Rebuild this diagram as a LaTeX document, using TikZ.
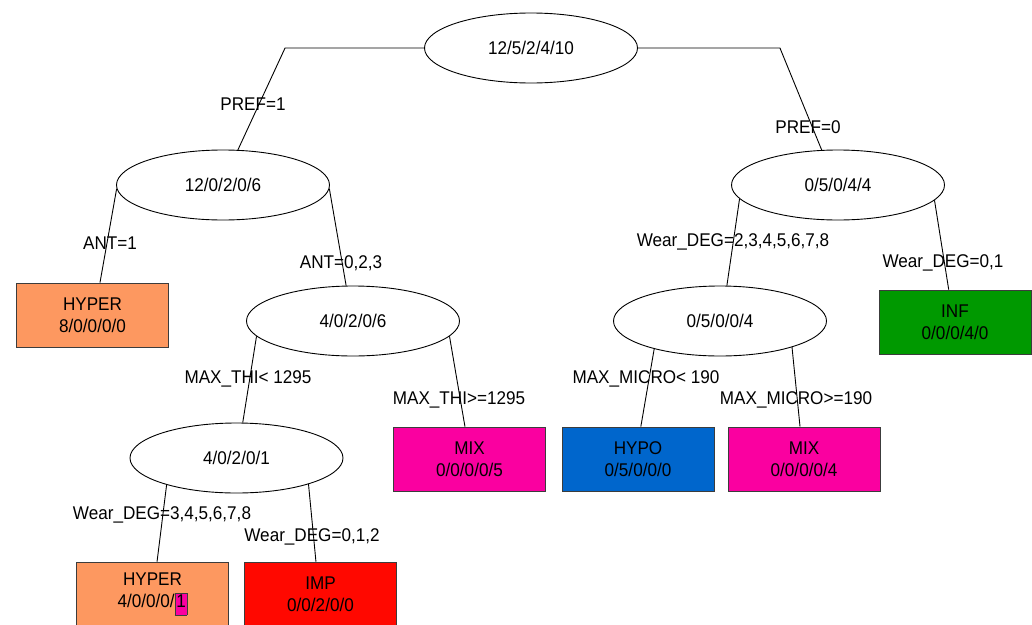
\documentclass[tikz,border=0pt]{standalone}
\usepackage{fontspec}
\setmainfont{Liberation Sans}[FakeStretch=0.93]
\usetikzlibrary{shapes.geometric}
\definecolor{hypercol}{RGB}{253,152,96}
\definecolor{mixcol}{RGB}{250,0,160}
\definecolor{hypocol}{RGB}{0,102,204}
\definecolor{infcol}{RGB}{0,153,0}
\definecolor{impcol}{RGB}{255,8,0}
\definecolor{bordercol}{RGB}{60,60,60}
\tikzset{
  txt/.style={font=\fontsize{18.4}{22}\selectfont, inner sep=0pt},
  splitnode/.style={ellipse, draw=black, line width=0.9pt, fill=white, minimum width=213pt, minimum height=70pt, inner sep=0pt, txt},
  leafbox/.style={rectangle, draw=bordercol, line width=0.9pt, minimum width=152pt, minimum height=64pt, inner sep=0pt, align=center, txt},
  conn/.style={draw=black, line width=0.9pt},
  elabel/.style={txt}
}
\begin{document}
\begin{tikzpicture}[x=1pt,y=-1pt]
\useasboundingbox (0,0) rectangle (1032,624);
\clip (0,0) rectangle (1032,624);
\fill[white] (0,0) rectangle (1032,624);

% split nodes
\node[splitnode] (root) at (531,48) {12/5/2/4/10};
\node[splitnode] (n1) at (223,185) {12/0/2/0/6};
\node[splitnode] (n2) at (838,185) {0/5/0/4/4};
\node[splitnode] (n12) at (353,321) {4/0/2/0/6};
\node[splitnode] (n21) at (720,321) {0/5/0/0/4};
\node[splitnode] (n121) at (236.5,458) {4/0/2/0/1};

% leaves
\node[leafbox, fill=hypercol] (n11) at (92.5,315) {HYPER\\8/0/0/0/0};
\node[leafbox, fill=infcol] (n22) at (955,322) {INF\\0/0/0/4/0};
\node[leafbox, fill=mixcol] (n122) at (469.5,459) {MIX\\0/0/0/0/5};
\node[leafbox, fill=hypocol] (n211) at (638,459) {HYPO\\0/5/0/0/0};
\node[leafbox, fill=mixcol] (n212) at (804,459) {MIX\\0/0/0/0/4};
\node[leafbox, fill=hypercol] (n1211) at (152.5,594) {HYPER\\4/0/0/0/{\setlength{\fboxsep}{1pt}\setlength{\fboxrule}{0.6pt}\fcolorbox{bordercol}{mixcol}{\rule[-6pt]{0pt}{19pt}1}}};
\node[leafbox, fill=impcol] (n1212) at (320.5,594) {IMP\\0/0/2/0/0};

% connectors
\draw[conn] (root.west) -- ++(-139,0) -- (n1.67);
\draw[conn] (root.east) -- ++(142,0) -- (n2.115);
\draw[conn] (n1.182) -- (n11.77);
\draw[conn] (n1.358) -- (n12.101);
\draw[conn] (n2.188) -- (n21.79);
\draw[conn] (n2.351) -- (n22.101);
\draw[conn] (n12.189) -- (n121.80);
\draw[conn] (n12.351) -- (n122.98);
\draw[conn] (n21.203) -- (n211.85);
\draw[conn] (n21.340) -- (n212.97);
\draw[conn] (n121.201) -- (n1211.82);
\draw[conn] (n121.340) -- (n1212.98);

% edge labels
\node[elabel] (l1) at (253,104) {PREF=1};
\node[elabel] (l2) at (808,127) {PREF=0};
\node[elabel] (l3) at (110,243) {ANT=1};
\node[elabel] (l4) at (341,263) {ANT=0,2,3};
\node[elabel] (l5) at (248,379) {MAX\_THI< 1295};
\node[elabel] (l6) at (459,400) {MAX\_THI>=1295};
\node[elabel] (l7) at (733,242) {Wear\_DEG=2,3,4,5,6,7,8};
\node[elabel] (l8) at (943,263) {Wear\_DEG=0,1};
\node[elabel] (l9) at (646,379) {MAX\_MICRO< 190};
\node[elabel] (l10) at (796,400) {MAX\_MICRO>=190};
\node[elabel] (l11) at (162,515) {Wear\_DEG=3,4,5,6,7,8};
\node[elabel] (l12) at (312,537) {Wear\_DEG=0,1,2};
\end{tikzpicture}
\end{document}
